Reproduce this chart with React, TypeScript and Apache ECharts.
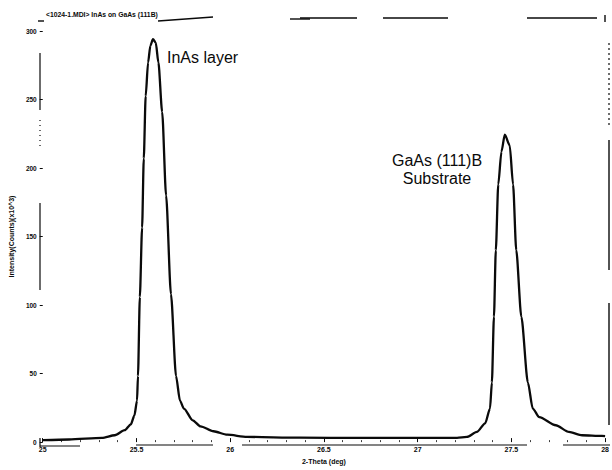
import React, { useEffect, useRef } from "react";
import * as echarts from "echarts";

// X-ray diffraction scan: 2-Theta (deg) vs intensity (counts x10^3)
const twoTheta = [
  25.0, 25.14, 25.316, 25.384, 25.437, 25.47, 25.489, 25.503, 25.508, 25.518,
  25.53, 25.539, 25.549, 25.562, 25.574, 25.588, 25.603, 25.617, 25.637, 25.658,
  25.684, 25.711, 25.732, 25.753, 25.8, 25.842, 25.911, 25.984, 26.089, 26.368,
  26.7, 27.0, 27.21, 27.263, 27.316, 27.36, 27.386, 27.396, 27.407, 27.417,
  27.43, 27.447, 27.465, 27.491, 27.509, 27.526, 27.553, 27.588, 27.614, 27.649,
  27.737, 27.807, 27.877, 27.983, 28.0,
];
const intensity = [
  1.4, 1.9, 3.1, 5.0, 8.7, 13.0, 19.5, 30.3, 48.3, 106,
  156.5, 207, 252.4, 277, 289.2, 294, 291.5, 277, 241, 180,
  108, 48.3, 30.3, 24.5, 15.9, 11.5, 7.9, 5.4, 3.8, 3.2,
  3.1, 3.1, 3.1, 3.8, 7.4, 13.7, 24.5, 43.5, 91.6, 140,
  188, 212, 224.3, 216.6, 188, 140, 91.6, 43.5, 24.5, 18.2,
  12.3, 7.4, 5.0, 4.5, 4.4,
];

const xMin = 25;
const xMax = 28;
const xStep = 0.5;
const yMin = 0;
const yMax = 300;
const yStep = 50;

const chartTitle = "<1024-1.MDI> InAs on GaAs (111B)";
const xName = "2-Theta (deg)";
const yName = "Intensity(Counts)(x10^3)";
const peakLabels = ["InAs layer", "GaAs (111)B\nSubstrate"];

const FONT = "'Liberation Sans', Arial, sans-serif";
const INK = "#0a0a0a";

// broken frame strokes of the scanned plot border
const seg = (x1: number, y1: number, x2: number, y2: number, w = 1.4, dash?: number[]) => ({
  type: "line",
  silent: true,
  shape: { x1, y1, x2, y2 },
  style: { stroke: INK, lineWidth: w, lineDash: dash },
});

export default function App() {
  const ref = useRef<HTMLDivElement>(null);

  useEffect(() => {
    if (!ref.current) return;
    const chart = echarts.init(ref.current, undefined, { renderer: "svg" });
    const points = twoTheta.map((t, i) => [t, intensity[i]]);

    chart.setOption({
      animation: false,
      backgroundColor: "#ffffff",
      title: {
        text: chartTitle,
        left: 41,
        top: 6,
        textStyle: { fontFamily: FONT, fontSize: 6.8, fontWeight: "bold", color: INK },
      },
      grid: { left: 40, right: 2, top: 31, bottom: 24 },
      xAxis: {
        type: "value",
        min: xMin,
        max: xMax,
        interval: xStep,
        name: xName,
        nameLocation: "middle",
        nameGap: 13,
        nameTextStyle: { fontFamily: FONT, fontSize: 7, fontWeight: "bold", color: INK },
        axisLine: { show: false, lineStyle: { color: INK } },
        axisTick: { show: true, inside: true, length: 4, lineStyle: { color: INK, width: 1 } },
        minorTick: { show: true, splitNumber: 5, length: 2, lineStyle: { color: INK, width: 0.8 } },
        axisLabel: { fontFamily: FONT, fontSize: 7, fontWeight: "bold", color: INK, margin: 4 },
        splitLine: { show: false },
      },
      yAxis: {
        type: "value",
        min: yMin,
        max: yMax,
        interval: yStep,
        name: yName,
        nameLocation: "middle",
        nameGap: 25,
        nameTextStyle: { fontFamily: FONT, fontSize: 7, fontWeight: "bold", color: INK },
        axisLine: { show: false, lineStyle: { color: INK } },
        axisTick: { show: true, length: 3, lineStyle: { color: INK, width: 1 } },
        axisLabel: { fontFamily: FONT, fontSize: 6.5, fontWeight: "bold", color: INK, margin: 6 },
        splitLine: { show: false },
      },
      series: [
        {
          type: "line",
          data: points,
          showSymbol: false,
          smooth: 0.25,
          smoothMonotone: "x",
          lineStyle: { color: INK, width: 2.3 },
          silent: true,
        },
      ],
      graphic: [
        {
          type: "text",
          x: 167,
          y: 57,
          silent: true,
          style: {
            text: peakLabels[0],
            font: `16px ${FONT}`,
            fill: INK,
            textAlign: "left",
            align: "left",
            textVerticalAlign: "middle",
            verticalAlign: "middle",
          },
        },
        {
          type: "text",
          x: 437,
          y: 169,
          silent: true,
          style: {
            text: peakLabels[1],
            font: `16px ${FONT}`,
            lineHeight: 18,
            fill: INK,
            textAlign: "center",
            align: "center",
            textVerticalAlign: "middle",
            verticalAlign: "middle",
          },
        },
        // top border
        seg(38, 21, 44, 21),
        seg(158, 21, 213, 17),
        seg(290, 19, 310, 19),
        seg(300, 18, 357, 18),
        seg(383, 18, 448, 18),
        seg(527, 18, 597, 18),
        seg(605, 15, 605, 22),
        // right border
        seg(609, 43, 609, 127, 1.2, [2, 3]),
        seg(609, 140, 609, 270, 1.4),
        seg(609, 303, 609, 425, 1.4),
        // left axis
        seg(40, 53, 40, 110, 1.2),
        seg(40, 120, 40, 150, 1.2, [1, 4]),
        seg(40, 203, 40, 290, 1.2),
        seg(40, 438, 40, 447, 1.2),
        // bottom axis
        seg(40, 446, 80, 446, 1.2),
        seg(136, 445, 213, 445, 1.2),
        seg(242, 445, 527, 445, 1.2),
        seg(563, 445, 610, 445, 1.2),
      ],
    });

    return () => chart.dispose();
  }, []);

  return (
    <div
      ref={ref}
      style={{ position: "fixed", left: 0, top: 0, width: 612, height: 470, background: "#fff" }}
    />
  );
}
